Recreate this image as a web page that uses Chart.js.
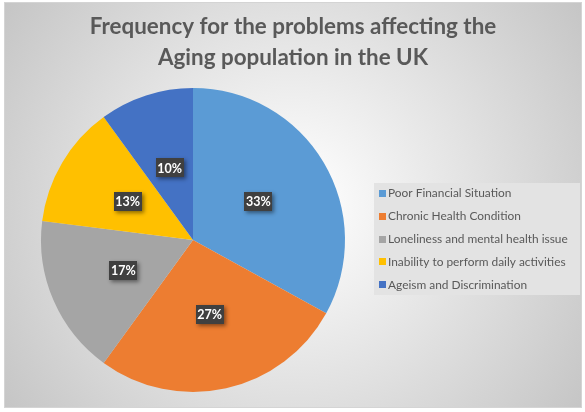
<!DOCTYPE html>
<html>
<head>
<meta charset="utf-8">
<script src="https://cdn.jsdelivr.net/npm/chart.js@4.4.1/dist/chart.umd.min.js"></script>
<style>
html,body{margin:0;padding:0;background:#fff;}
#wrap{width:585px;height:412px;position:relative;}
</style>
</head>
<body>
<div id="wrap"><canvas id="c" width="585" height="412"></canvas></div>
<script>
const titleLines = ["Frequency for the problems affecting the", "Aging population in the UK"];
const categories = ["Poor Financial Situation", "Chronic Health Condition", "Loneliness and mental health issue", "Inability to perform daily activities", "Ageism and Discrimination"];
const values = [33, 27, 17, 13, 10];
const colors = ["#5B9BD5", "#ED7D31", "#A5A5A5", "#FFC000", "#4472C4"];

const bgPlugin = {
  id: 'bg',
  beforeDraw(chart) {
    const ctx = chart.ctx;
    ctx.save();
    ctx.fillStyle = '#ffffff';
    ctx.fillRect(0, 0, chart.width, chart.height);
    const x0 = 4, y0 = 2, x1 = 582, y1 = 408;
    const g = ctx.createRadialGradient(293, 205, 10, 293, 205, 360);
    g.addColorStop(0, '#ffffff');
    g.addColorStop(1, '#c4c4c4');
    ctx.fillStyle = g;
    ctx.fillRect(x0, y0, x1 - x0, y1 - y0);
    ctx.strokeStyle = '#d4d4d4';
    ctx.lineWidth = 1;
    ctx.strokeRect(x0 + 0.5, y0 + 0.5, x1 - x0 - 1, y1 - y0 - 1);
    ctx.fillStyle = '#595959';
    ctx.font = 'bold 22.4px Lato';
    ctx.textAlign = 'center';
    ctx.textBaseline = 'middle';
    ctx.fillText(titleLines[0], 293, 27);
    ctx.fillText(titleLines[1], 293, 58);
    ctx.restore();
  },
  afterDatasetsDraw(chart) {
    const ctx = chart.ctx;
    const meta = chart.getDatasetMeta(0);
    const data = chart.data.datasets[0].data;
    const total = data.reduce((a, b) => a + b, 0);
    ctx.save();
    ctx.font = 'bold 12.5px Lato';
    ctx.textAlign = 'center';
    ctx.textBaseline = 'middle';
    meta.data.forEach((arc, i) => {
      const p = arc.tooltipPosition();
      const txt = Math.round(data[i] / total * 100) + '%';
      const w = 28;
      const h = 19;
      ctx.save();
      ctx.shadowColor = 'rgba(0,0,0,0.45)';
      ctx.shadowBlur = 4;
      ctx.shadowOffsetX = 2;
      ctx.shadowOffsetY = 2;
      ctx.fillStyle = '#404040';
      ctx.fillRect(Math.round(p.x - w / 2), Math.round(p.y - h / 2), w, h);
      ctx.restore();
      ctx.fillStyle = '#ffffff';
      ctx.fillText(txt, p.x, p.y + 1);
    });
    ctx.restore();
  },
  afterDraw(chart) {
    const ctx = chart.ctx;
    ctx.save();
    ctx.fillStyle = '#e3e3e3';
    ctx.fillRect(374, 183, 206, 112);
    ctx.font = '11.9px Lato';
    ctx.textAlign = 'left';
    ctx.textBaseline = 'middle';
    const labels = chart.data.labels;
    const bgc = chart.data.datasets[0].backgroundColor;
    labels.forEach((lab, i) => {
      const y = 193 + i * 22.8;
      ctx.fillStyle = bgc[i];
      ctx.fillRect(379, Math.round(y - 3), 7, 7);
      ctx.fillStyle = '#595959';
      ctx.fillText(lab, 388, y + 0.5);
    });
    ctx.restore();
  }
};

new Chart(document.getElementById('c'), {
  type: 'pie',
  data: {
    labels: categories,
    datasets: [{
      data: values,
      backgroundColor: colors,
      borderWidth: 0
    }]
  },
  options: {
    responsive: false,
    animation: false,
    layout: { padding: { top: 88, bottom: 20, left: 40, right: 239 } },
    plugins: {
      legend: { display: false },
      tooltip: { enabled: false },
      title: { display: false }
    }
  },
  plugins: [bgPlugin]
});
</script>
</body>
</html>
